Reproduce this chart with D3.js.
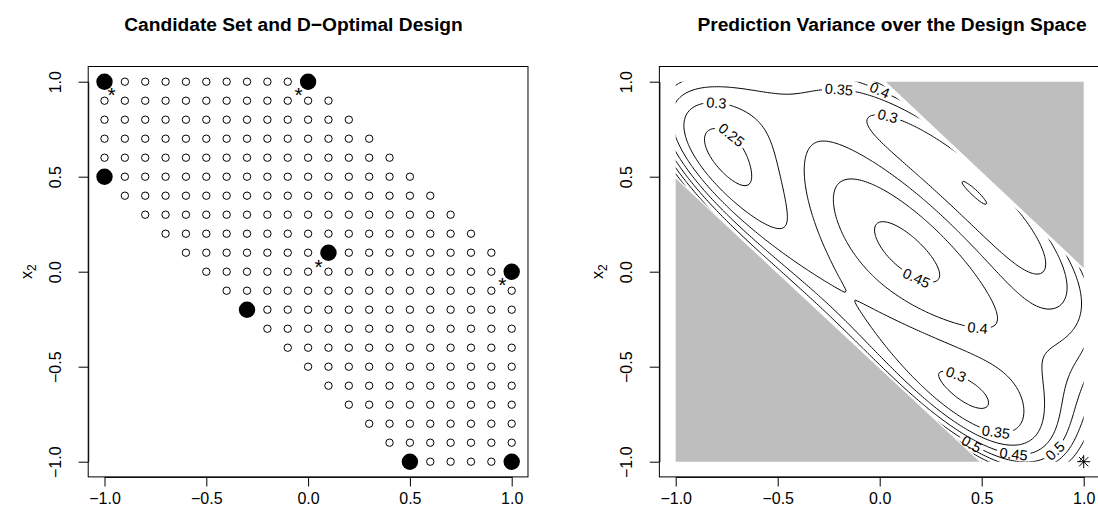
<!DOCTYPE html>
<html>
<head>
<meta charset="UTF-8">
<title>D-Optimal Design</title>
<script src="https://cdn.jsdelivr.net/npm/d3@7"></script>
<style>
  body { margin: 0; background: #fff; }
  text { font-family: "Liberation Sans", Arial, Helvetica, sans-serif; fill: #000; }
</style>
</head>
<body>
<div id="app"></div>
<script>
// ---- data ----
// candidate set: one row per x2 level, x1 runs from candXmin to candXmax in steps of 0.1
var candY    = [1.0, 0.9, 0.8, 0.7, 0.6, 0.5, 0.4, 0.3, 0.2, 0.1, 0.0, -0.1, -0.2, -0.3, -0.4, -0.5, -0.6, -0.7, -0.8, -0.9, -1.0];
var candXmin = [-1, -1, -1, -1, -1, -1, -0.9, -0.8, -0.7, -0.6, -0.5, -0.4, -0.3, -0.2, -0.1, 0.0, 0.1, 0.2, 0.3, 0.4, 0.5];
var candXmax = [0.0, 0.1, 0.2, 0.3, 0.4, 0.5, 0.6, 0.7, 0.8, 0.9, 1, 1, 1, 1, 1, 1, 1, 1, 1, 1, 1];
var candStep = 0.1;

// D-optimal design points and how many runs sit on each
var designX1   = [-1, 0, -1, 0.1, 1, -0.3, 0.5, 1];
var designX2   = [1, 1, 0.5, 0.1, 0, -0.2, -1, -1];
var designReps = [2, 2, 1, 2, 2, 1, 1, 1];

// "*" markers beside the replicated points
var starX1 = [-0.965, -0.047, 0.052, 0.954];
var starX2 = [0.956, 0.956, 0.053, -0.044];

// right panel
var levels = [0.2, 0.25, 0.3, 0.35, 0.4, 0.45, 0.5, 0.55, 0.6, 0.65, 0.7, 0.75, 0.8, 0.85, 0.9, 0.95, 1.0];
var labLevel = [0.35, 0.4, 0.3, 0.25, 0.3, 0.45, 0.4, 0.3, 0.35, 0.5, 0.45, 0.5];
var labX     = [-0.20, -0.01, -0.80, -0.76, 0.04, 0.19, 0.48, 0.37, 0.57, 0.45, 0.66, 0.85];
var labY     = [0.945, 0.945, 0.867, 0.677, 0.80, -0.007, -0.29, -0.56, -0.817, -0.912, -0.939, -0.93];
// feasible region (-0.5 <= x1 + x2 <= 1) and the grey infeasible corners
var feasX1 = [-1, 0, 1, 1, 0.5, -1];
var feasX2 = [1, 1, 0, -1, -1, 0.5];
var grayUpper = [[0.03, 1], [1, 1], [1, 0.02]];
var grayLower = [[-1, -1], [-1, 0.49], [0.49, -1]];
var maxPoint = [1, -1];

var ticks = [-1, -0.5, 0, 0.5, 1];

// ---- layout ----
var svg = d3.select('#app').append('svg').attr('width', 1098).attr('height', 520);
var xL = d3.scaleLinear().domain([-1, 1]).range([104.5, 511.7]);
var xR = d3.scaleLinear().domain([-1, 1]).range([675.7, 1083.7]);
var y = d3.scaleLinear().domain([-1, 1]).range([461.7, 81.7]);
var fmt = d3.format('.1f');

function frame(x, title, titleX) {
    var left = x(-1.08), right = x(1.08), top = y(1.08), bottom = y(-1.08);
    svg.append('rect')
        .attr('x', left).attr('y', top)
        .attr('width', right - left).attr('height', bottom - top)
        .attr('fill', 'none').attr('stroke', '#000').attr('stroke-width', 1);

    var ax = svg.append('g').attr('transform', 'translate(0,' + bottom + ')')
        .call(d3.axisBottom(x).tickValues(ticks).tickFormat(fmt).tickSize(9.6).tickSizeOuter(0));
    ax.selectAll('text').attr('y', 27.5).attr('dy', null).style('font-size', '16px');

    var ay = svg.append('g').attr('transform', 'translate(' + left + ',0)')
        .call(d3.axisLeft(y).tickValues(ticks).tickFormat(fmt).tickSize(9.6).tickSizeOuter(0));
    ay.selectAll('text')
        .attr('x', null).attr('dy', null)
        .attr('text-anchor', 'middle')
        .attr('transform', 'translate(-27,0) rotate(-90)')
        .style('font-size', '16px');
    svg.selectAll('.domain').attr('stroke', '#000');
    svg.selectAll('.tick line').attr('stroke', '#000');

    var lab = svg.append('text')
        .attr('transform', 'translate(' + (left - 56.5) + ',' + y(0) + ') rotate(-90)')
        .attr('text-anchor', 'middle').style('font-size', '16px');
    lab.append('tspan').text('x');
    lab.append('tspan').attr('dy', 4).style('font-size', '12px').text('2');

    svg.append('text')
        .attr('x', titleX).attr('y', 30.7)
        .attr('text-anchor', 'middle')
        .style('font-size', '19.2px').style('font-weight', 'bold')
        .text(title);
}

// ---- left panel ----
frame(xL, 'Candidate Set and D\u2212Optimal Design', 293.5);

var cand = [];
candY.forEach(function(yy, i) {
    var n = Math.round((candXmax[i] - candXmin[i]) / candStep);
    for (var k = 0; k <= n; k++) cand.push([+(candXmin[i] + k * candStep).toFixed(2), yy]);
});
svg.append('g').selectAll('circle').data(cand).enter().append('circle')
    .attr('cx', function(d) { return xL(d[0]); })
    .attr('cy', function(d) { return y(d[1]); })
    .attr('r', 3.7).attr('fill', 'none').attr('stroke', '#000').attr('stroke-width', 1);

svg.append('g').selectAll('circle').data(designX1).enter().append('circle')
    .attr('cx', function(d) { return xL(d); })
    .attr('cy', function(d, i) { return y(designX2[i]); })
    .attr('r', 8.2).attr('fill', '#000');

svg.append('g').selectAll('text').data(starX1).enter().append('text')
    .attr('x', function(d) { return xL(d); })
    .attr('y', function(d, i) { return y(starX2[i]) + 12.2; })
    .attr('text-anchor', 'middle').style('font-size', '21px')
    .text('*');

// ---- right panel ----
frame(xR, 'Prediction Variance over the Design Space', 892);

// quadratic model, prediction variance f(x)' (X'X)^-1 f(x)
function terms(a, b) { return [1, a, b, a * a, b * b, a * b]; }
var p = 6, M = [];
for (var r = 0; r < p; r++) { M.push(new Array(p).fill(0)); }
designX1.forEach(function(a, i) {
    var v = terms(a, designX2[i]);
    for (var r = 0; r < p; r++) for (var c = 0; c < p; c++) M[r][c] += designReps[i] * v[r] * v[c];
});
function invert(A) {
    var n = A.length, B = A.map(function(row, i) {
        return row.concat(row.map(function(_, j) { return i === j ? 1 : 0; }));
    });
    for (var c = 0; c < n; c++) {
        var piv = c;
        for (var r = c + 1; r < n; r++) if (Math.abs(B[r][c]) > Math.abs(B[piv][c])) piv = r;
        var t = B[c]; B[c] = B[piv]; B[piv] = t;
        var d = B[c][c];
        for (var j = 0; j < 2 * n; j++) B[c][j] /= d;
        for (var r = 0; r < n; r++) {
            if (r === c) continue;
            var f = B[r][c];
            for (var j = 0; j < 2 * n; j++) B[r][j] -= f * B[c][j];
        }
    }
    return B.map(function(row) { return row.slice(n); });
}
var Minv = invert(M);
function predVar(a, b) {
    var v = terms(a, b), s = 0;
    for (var r = 0; r < p; r++) for (var c = 0; c < p; c++) s += v[r] * Minv[r][c] * v[c];
    return s;
}

var g0 = -1.1, gStep = 0.01, gN = 221;
var vals = new Array(gN * gN);
for (var j = 0; j < gN; j++) for (var i = 0; i < gN; i++) vals[i + j * gN] = predVar(g0 + i * gStep, g0 + j * gStep);
var cs = d3.contours().size([gN, gN]).thresholds(levels)(vals);

function toData(px, py) { return [g0 + (px - 0.5) * gStep, g0 + (py - 0.5) * gStep]; }
function feasible(d) {
    return Math.abs(d[0]) <= 1 && Math.abs(d[1]) <= 1 && d[0] + d[1] <= 1 && d[0] + d[1] >= -0.5;
}
var proj = d3.geoTransform({ point: function(px, py) {
    var d = toData(px, py); this.stream.point(xR(d[0]), y(d[1]));
} });
var path = d3.geoPath(proj);

var defs = svg.append('defs');
defs.append('clipPath').attr('id', 'feas').append('path')
    .attr('d', d3.line().x(function(d) { return xR(d); }).y(function(d, i) { return y(feasX2[i]); })(feasX1) + 'Z');

// labels: snap to the nearest point of that level's line
var labels = labLevel.map(function(lv, k) {
    var c = cs.filter(function(q) { return Math.abs(q.value - lv) < 1e-9; })[0];
    var tx = xR(labX[k]), ty = y(labY[k]), best = null, bd = Infinity;
    c.coordinates.forEach(function(poly) {
        poly.forEach(function(ring) {
            ring.forEach(function(pt, idx) {
                var d = toData(pt[0], pt[1]);
                if (!feasible(d)) return;
                var sx = xR(d[0]), sy = y(d[1]);
                var dd = (sx - tx) * (sx - tx) + (sy - ty) * (sy - ty);
                if (dd < bd) { bd = dd; best = { ring: ring, idx: idx, x: sx, y: sy }; }
            });
        });
    });
    var n = best.ring.length;
    var a = toData.apply(null, best.ring[(best.idx - 3 + n) % n]);
    var b = toData.apply(null, best.ring[(best.idx + 3) % n]);
    var ang = Math.atan2(y(b[1]) - y(a[1]), xR(b[0]) - xR(a[0])) * 180 / Math.PI;
    if (ang > 90) ang -= 180;
    if (ang < -90) ang += 180;
    return { level: lv, x: best.x, y: best.y, angle: ang };
});

var lineG = svg.append('g').attr('clip-path', 'url(#feas)');
cs.forEach(function(c, li) {
    var mask = defs.append('mask').attr('id', 'm' + li).attr('maskUnits', 'userSpaceOnUse')
        .attr('x', 0).attr('y', 0).attr('width', 1098).attr('height', 520);
    mask.append('rect').attr('width', 1098).attr('height', 520).attr('fill', '#fff');
    labels.filter(function(l) { return l.level === c.value; }).forEach(function(l) {
        var w = String(+l.level.toFixed(2)).length * 7.4;
        mask.append('rect')
            .attr('x', -w / 2 - 2).attr('y', -6.5).attr('width', w + 4).attr('height', 13)
            .attr('transform', 'translate(' + l.x + ',' + l.y + ') rotate(' + l.angle + ')')
            .attr('fill', '#000');
    });
    lineG.append('path').attr('d', path(c))
        .attr('fill', 'none').attr('stroke', '#000').attr('stroke-width', 1)
        .attr('mask', 'url(#m' + li + ')');
});

[grayUpper, grayLower].forEach(function(poly) {
    svg.append('path')
        .attr('d', d3.line().x(function(d) { return xR(d[0]); }).y(function(d) { return y(d[1]); })(poly) + 'Z')
        .attr('fill', '#bebebe').attr('stroke', 'none');
});

svg.append('g').selectAll('text').data(labels).enter().append('text')
    .attr('transform', function(l) { return 'translate(' + l.x + ',' + l.y + ') rotate(' + l.angle + ')'; })
    .attr('text-anchor', 'middle').attr('dy', '0.35em')
    .style('font-size', '14.5px')
    .text(function(l) { return String(+l.level.toFixed(2)); });

// point of largest prediction variance (pch 8)
var mx = xR(maxPoint[0]), my = y(maxPoint[1]), s = 6.5, s2 = 4.6;
svg.append('path')
    .attr('d', 'M' + (mx - s) + ',' + my + 'H' + (mx + s) + 'M' + mx + ',' + (my - s) + 'V' + (my + s) +
               'M' + (mx - s2) + ',' + (my - s2) + 'L' + (mx + s2) + ',' + (my + s2) +
               'M' + (mx - s2) + ',' + (my + s2) + 'L' + (mx + s2) + ',' + (my - s2))
    .attr('stroke', '#000').attr('stroke-width', 1).attr('fill', 'none');
</script>
</body>
</html>
